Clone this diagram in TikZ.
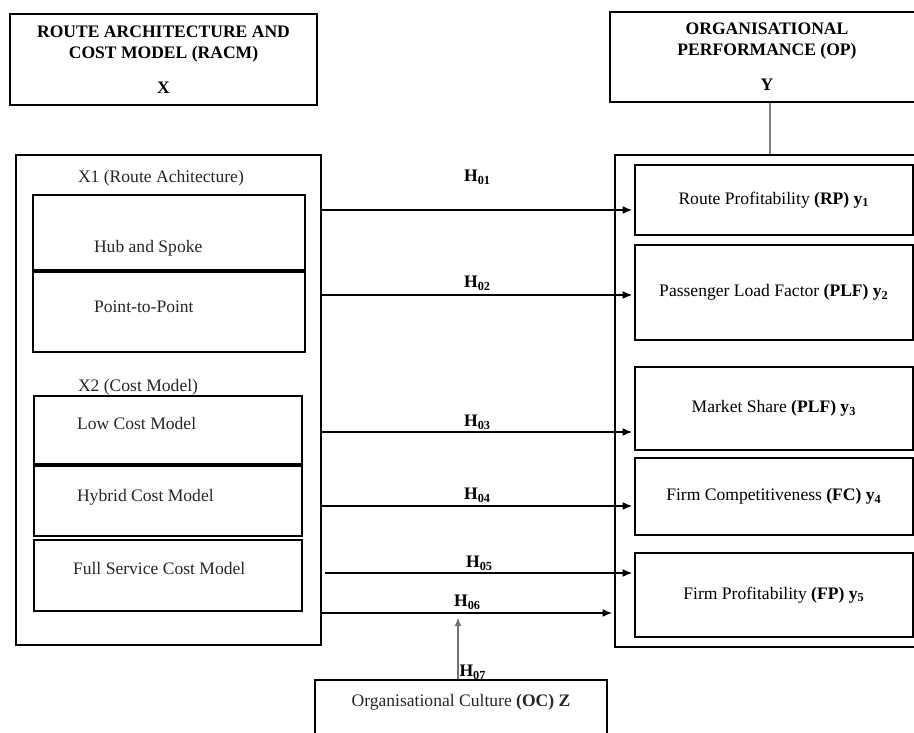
\documentclass[tikz,border=0pt]{standalone}
\usepackage{fontspec}
\setmainfont{Liberation Serif}
\usepackage{tikz}
\usetikzlibrary{arrows.meta,positioning}
\tikzstyle{headBox} = [rectangle, draw=black, line width=1.1pt, align=center, font=\bfseries, inner sep=0pt]
\tikzstyle{frameBox} = [rectangle, draw=black, line width=1.1pt, inner sep=0pt]
\tikzstyle{itemBox} = [rectangle, draw=black, line width=1.1pt, inner sep=0pt, text centered]
\tikzstyle{txtNode} = [inner sep=0pt, outer sep=0pt, text=black!85]
\tikzstyle{hLbl} = [inner sep=0pt, font=\bfseries]
\tikzstyle{hArrow} = [line width=0.9pt, -{Latex[length=5.5pt,width=4.5pt]}, shorten >=1pt, draw=black]
\tikzstyle{gArrow} = [line width=0.8pt, -{Latex[length=5pt,width=4pt]}, shorten >=2.5pt, draw=black!55]
\tikzstyle{gLine} = [line width=0.8pt, draw=black!50]

\begin{document}
\begin{tikzpicture}[x=0.02cm, y=-0.02cm]
    \useasboundingbox (0,0) rectangle (914,733);

    % headings
    \node (racm) [headBox, minimum width=6.14cm, minimum height=1.82cm] at (163.5,59.5) {ROUTE ARCHITECTURE AND\\COST MODEL (RACM)\\[8pt]X};
    \node (op) [headBox, minimum width=6.28cm, minimum height=1.8cm] at (767,57) {ORGANISATIONAL\\PERFORMANCE (OP)\\[8pt]Y};

    % left side
    \node (archbox) [frameBox, minimum width=6.1cm, minimum height=9.8cm] at (168.5,400) {};
    \node (x1lbl) [txtNode, anchor=west] at (78,178) {X1 (Route Achitecture)};
    \node (hub) [itemBox, minimum width=5.44cm, minimum height=1.5cm] at (169,232.5) {};
    \node (point) [itemBox, minimum width=5.44cm, minimum height=1.6cm, below=0pt of hub] {};
    \node (hubtxt) [txtNode, right=1.24cm of hub.west, yshift=-0.31cm] {Hub and Spoke};
    \node (pointtxt) [txtNode, right=1.24cm of point.west, yshift=0.1cm] {Point-to-Point};

    \node (x2lbl) [txtNode, anchor=west] at (78,387) {X2 (Cost Model)};
    \node (lowc) [itemBox, minimum width=5.36cm, minimum height=1.36cm] at (168,430) {};
    \node (hybrid) [itemBox, minimum width=5.36cm, minimum height=1.4cm, below=0pt of lowc] {};
    \node (fullsvc) [itemBox, minimum width=5.36cm, minimum height=1.42cm, below=0.04cm of hybrid] {};
    \node (lowtxt) [txtNode, right=0.88cm of lowc.west, yshift=0.14cm] {Low Cost Model};
    \node (hybtxt) [txtNode, right=0.88cm of hybrid.west, yshift=0.08cm] {Hybrid Cost Model};
    \node (fulltxt) [txtNode, right=0.8cm of fullsvc.west, yshift=0.13cm] {Full Service Cost Model};

    % right side
    \node (perfbox) [frameBox, minimum width=6.1cm, minimum height=9.84cm] at (767.5,401) {};
    \node (rp) [itemBox, minimum width=5.56cm, minimum height=1.4cm] at (774,200) {Route Profitability \textbf{(RP) y\textsubscript{1}}};
    \node (plf) [itemBox, minimum width=5.56cm, minimum height=1.9cm] at (774,292.5) {Passenger Load Factor \textbf{(PLF) y\textsubscript{2}}};
    \node (ms) [itemBox, minimum width=5.56cm, minimum height=1.66cm] at (774,408.5) {Market Share \textbf{(PLF) y\textsubscript{3}}};
    \node (fc) [itemBox, minimum width=5.56cm, minimum height=1.54cm] at (774,496.5) {Firm Competitiveness \textbf{(FC) y\textsubscript{4}}};
    \node (fp) [itemBox, minimum width=5.56cm, minimum height=1.68cm] at (774,595) {Firm Profitability \textbf{(FP) y\textsubscript{5}}};

    % moderator
    \node (oc) [frameBox, minimum width=5.84cm, minimum height=1.2cm] at (461,710) {};
    \node (octxt) [txtNode] at ([yshift=-0.46cm]oc.north) {Organisational Culture \textbf{(OC) Z}};

    % hypotheses
    \coordinate (s1) at (321,210);
    \coordinate (s2) at (321,295);
    \coordinate (s3) at (321,432);
    \coordinate (s4) at (321,506);
    \coordinate (s5) at (325,573);
    \coordinate (s6) at (321,613);

    \draw [hArrow] (s1) -- node[hLbl, yshift=0.66cm] {H\textsubscript{01}} (s1 -| rp.west);
    \draw [hArrow] (s2) -- node[hLbl, yshift=0.23cm] {H\textsubscript{02}} (s2 -| plf.west);
    \draw [hArrow] (s3) -- node[hLbl, yshift=0.2cm] {H\textsubscript{03}} (s3 -| ms.west);
    \draw [hArrow] (s4) -- node[hLbl, yshift=0.22cm] {H\textsubscript{04}} (s4 -| fc.west);
    \draw [hArrow] (s5) -- node[hLbl, yshift=0.2cm] {H\textsubscript{05}} (s5 -| fp.west);
    \draw [hArrow] (s6) -- node[hLbl, yshift=0.22cm] {H\textsubscript{06}} (s6 -| perfbox.west);

    \draw [gArrow] ([xshift=-0.06cm]oc.north) -- ([xshift=-0.06cm]oc.north |- s6);
    \node (h7) [hLbl] at ([xshift=0.24cm,yshift=0.14cm]oc.north) {H\textsubscript{07}};

    \draw [gLine] ([xshift=0.06cm]op.south) -- ([xshift=0.06cm]op.south |- perfbox.north);
\end{tikzpicture}
\end{document}
